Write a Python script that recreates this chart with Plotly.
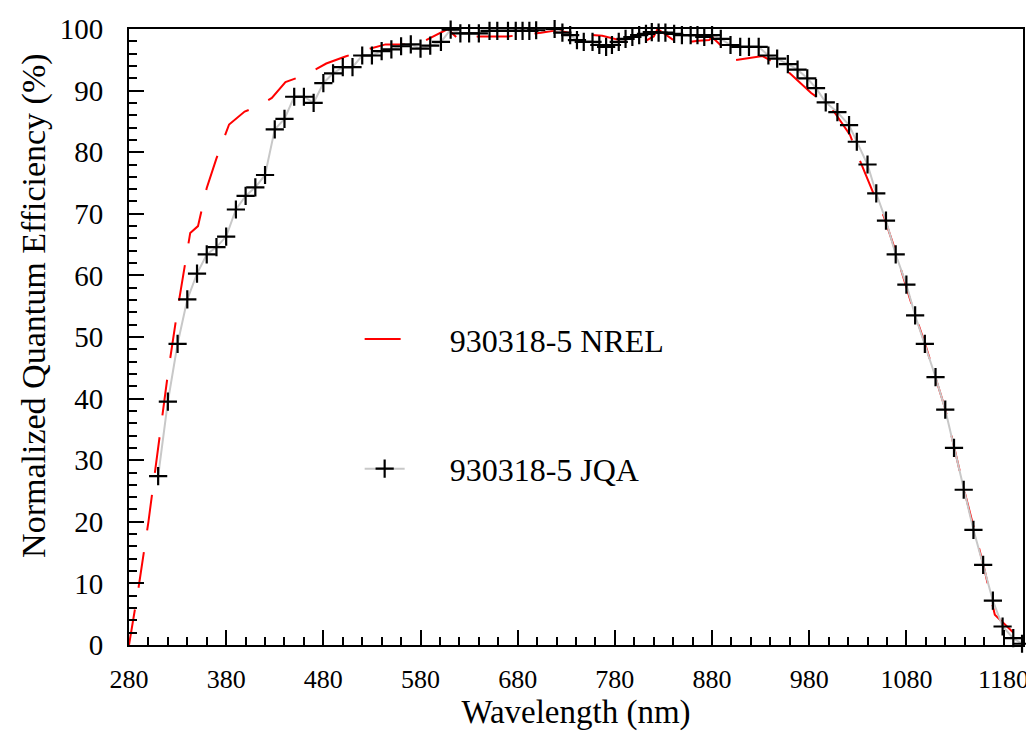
import plotly.graph_objects as go

# ---- data ----
jqa_wavelength = [310, 320, 330, 340, 350, 360, 370, 380, 390, 400, 410, 420, 430, 440, 450,
                  460, 470, 480, 490, 500, 510, 520, 530, 540, 550, 560, 570, 580, 590, 601,
                  611, 621, 630, 640, 651, 659, 670, 678, 685, 692, 699, 718, 726, 734, 741,
                  748, 757, 764, 771, 777, 784, 791, 798, 805, 812, 818, 825, 832, 841, 849,
                  858, 865, 872, 880, 889, 899, 909, 918, 928, 938, 947, 958, 968, 978, 987,
                  997, 1009, 1021, 1029, 1040, 1049, 1059, 1069, 1080, 1089, 1099, 1110, 1120,
                  1129, 1139, 1149, 1159, 1169, 1179, 1190, 1199]
jqa_qe = [27.4, 39.5, 48.9, 56.1, 60.3, 63.4, 64.6, 66.3, 70.7, 72.9, 74.3, 76.3, 83.7, 85.4, 89.0,
          89.0, 88.0, 91.2, 92.8, 93.8, 93.8, 95.7, 95.7, 96.4, 96.7, 97.2, 97.5, 96.8, 97.3, 97.9,
          99.9, 99.3, 99.3, 99.3, 99.7, 99.7, 99.7, 99.7, 99.7, 99.7, 99.8, 100.0, 99.4, 99.0, 98.2,
          97.9, 97.9, 97.4, 97.1, 97.4, 97.9, 98.4, 98.7, 99.0, 99.2, 99.5, 99.4, 99.4, 99.2, 99.0,
          99.0, 99.0, 98.7, 99.0, 98.4, 97.4, 97.1, 97.1, 97.1, 95.7, 95.2, 94.3, 93.4, 92.0, 90.4,
          88.1, 86.5, 84.4, 81.7, 78.0, 73.3, 68.9, 63.4, 58.5, 53.5, 48.9, 43.5, 38.2,
          32.0, 25.2, 18.7, 13.0, 7.2, 3.0, 1.1, 0.2]

nrel_wavelength = [280, 285, 290, 300, 310, 320, 330, 340, 343, 351, 360, 370, 383, 399, 409,
                   427, 441, 461, 483, 502, 521, 544, 577, 608, 620, 640, 670, 704, 720, 736,
                   767, 790, 800, 820, 824, 843, 849, 857, 866, 877, 880, 896, 901, 932, 954,
                   982, 1002, 1022, 1031, 1048, 1057, 1067, 1084, 1100, 1120, 1140, 1160, 1171, 1200]
nrel_qe = [0.0, 4.5, 9.5, 20.0, 32.0, 44.0, 54.5, 64.5, 66.9, 68.0, 74.2, 79.0, 84.5, 86.6, 87.2,
           88.8, 91.4, 92.5, 94.4, 95.5, 96.5, 97.5, 97.5, 100.0, 98.2, 98.8, 98.8, 99.4, 99.8, 99.3,
           98.9, 98.0, 97.1, 98.8, 100.0, 97.9, 97.0, 97.9, 98.1, 98.2, 98.7, 96.3, 94.9, 95.6, 93.7,
           89.6, 87.4, 82.8, 79.1, 72.6, 69.5, 64.8, 56.0, 48.5, 38.3, 24.8, 12.5, 4.9, 0.5]

x_ticks = [280, 380, 480, 580, 680, 780, 880, 980, 1080, 1180]
y_ticks = [0, 10, 20, 30, 40, 50, 60, 70, 80, 90, 100]

FONT = "Liberation Serif"
NBSP = "\u00a0" * 5

fig = go.Figure()
fig.add_trace(go.Scatter(
    x=nrel_wavelength, y=nrel_qe, mode="lines", name=NBSP + "930318-5 NREL",
    legendgroup="a",
    line=dict(color="#ff0000", width=2, dash="36px,22px"),
))
fig.add_trace(go.Scatter(
    x=jqa_wavelength, y=jqa_qe, mode="lines+markers", name=NBSP + "930318-5 JQA",
    legendgroup="b", cliponaxis=False,
    line=dict(color="#c8c8c8", width=2),
    marker=dict(symbol="cross-thin", size=13, color="black",
                line=dict(color="black", width=2.2)),
))

axis_common = dict(
    showgrid=False, zeroline=False, showline=True, linecolor="black", linewidth=2,
    mirror=True, ticks="inside", ticklen=15, tickwidth=2, tickcolor="black",
    automargin=False,
)
fig.update_xaxes(
    range=[280, 1200], tickvals=x_ticks, ticktext=[str(v) for v in x_ticks],
    minor=dict(dtick=20, tick0=280, ticks="inside", ticklen=8, tickwidth=2, tickcolor="black"),
    tickfont=dict(family=FONT, size=26, color="black"), ticklabelstandoff=10,
    title=dict(text="Wavelength (nm)", font=dict(family=FONT, size=33, color="black"), standoff=6),
    **axis_common,
)
fig.update_yaxes(
    range=[0, 100], tickvals=y_ticks, ticktext=[str(v) for v in y_ticks],
    minor=dict(dtick=2, tick0=0, ticks="inside", ticklen=8, tickwidth=2, tickcolor="black"),
    tickfont=dict(family=FONT, size=29, color="black"), ticklabelstandoff=18,
    **axis_common,
)

fig.add_annotation(
    text="Normalized Quantum Efficiency (%)", textangle=-90, showarrow=False,
    xref="paper", yref="paper", x=-0.1055, y=0.55, xanchor="center", yanchor="middle",
    font=dict(family=FONT, size=34, color="black"),
)

fig.update_layout(
    width=1034, height=737,
    margin=dict(l=121, r=19, t=21, b=100),
    paper_bgcolor="white", plot_bgcolor="white",
    showlegend=True,
    legend=dict(
        x=0.258, y=0.541, xanchor="left", yanchor="top",
        bgcolor="rgba(0,0,0,0)", font=dict(family=FONT, size=32, color="black"),
        tracegroupgap=85, itemwidth=40,
    ),
)

fig.write_html("out.html")
